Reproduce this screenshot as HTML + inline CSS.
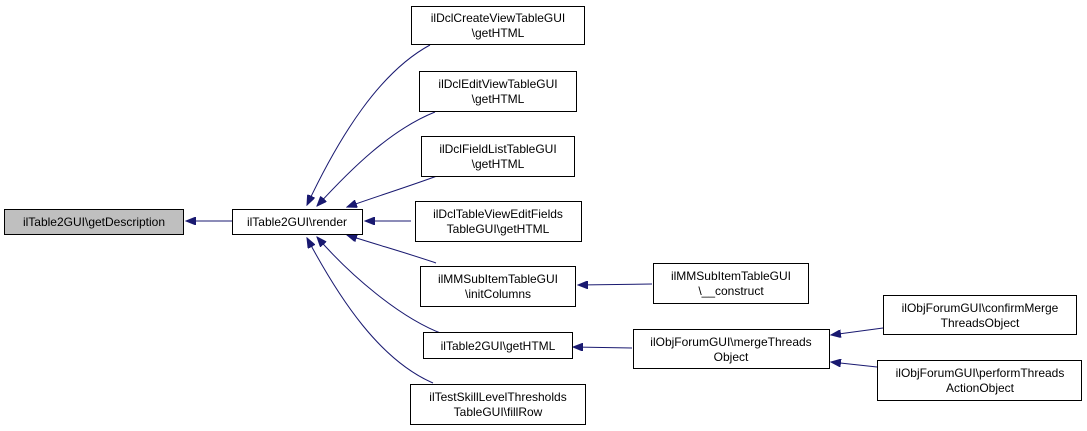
<!DOCTYPE html>
<html><head><meta charset="utf-8"><style>
html,body{margin:0;padding:0;background:#fff;}
svg{display:block;}
text{font-family:"Liberation Sans",Arial,sans-serif;font-size:12px;fill:#000;}
.n{fill:#fff;stroke:#000;stroke-width:1;}
.e{fill:none;stroke:#191970;stroke-width:1;}
</style></head><body>
<svg width="1087" height="431" viewBox="0 0 1087 431" xmlns="http://www.w3.org/2000/svg">
<defs>
<marker id="a" markerWidth="11" markerHeight="8" refX="10" refY="4" orient="auto" markerUnits="userSpaceOnUse">
<path d="M0,0 L10,4 L0,8 Z" fill="#191970" stroke="#191970"/>
</marker>
</defs>
<!-- edges -->
<path class="e" marker-end="url(#a)" d="M232,221 L186,221"/>
<path class="e" marker-end="url(#a)" d="M430,45 C380,72 340,135 307,205"/>
<path class="e" marker-end="url(#a)" d="M435,112 C390,130 350,170 317,206"/>
<path class="e" marker-end="url(#a)" d="M437,176 C410,186 378,196 347,207"/>
<path class="e" marker-end="url(#a)" d="M411,221 L365,221"/>
<path class="e" marker-end="url(#a)" d="M436,263 C410,254 378,245 347,235"/>
<path class="e" marker-end="url(#a)" d="M443,334 C400,318 350,275 317,237"/>
<path class="e" marker-end="url(#a)" d="M433,383 C380,360 340,300 307,238"/>
<path class="e" marker-end="url(#a)" d="M652,284 L578,285"/>
<path class="e" marker-end="url(#a)" d="M632,348 L573,347"/>
<path class="e" marker-end="url(#a)" d="M883,328 L831,335"/>
<path class="e" marker-end="url(#a)" d="M877,367 L831,362"/>
<!-- nodes -->
<rect x="4.5" y="209.5" width="179" height="25" style="fill:#bfbfbf;stroke:#000"/>
<text x="94" y="226" text-anchor="middle">ilTable2GUI\getDescription</text>
<rect class="n" x="232.5" y="209.5" width="130" height="25"/>
<text x="297" y="226" text-anchor="middle">ilTable2GUI\render</text>

<rect class="n" x="411.5" y="6.5" width="173" height="38"/>
<text x="498" y="22" text-anchor="middle">ilDclCreateViewTableGUI</text>
<text x="498" y="37" text-anchor="middle">\getHTML</text>

<rect class="n" x="419.5" y="71.5" width="157" height="40"/>
<text x="498" y="88" text-anchor="middle">ilDclEditViewTableGUI</text>
<text x="498" y="103" text-anchor="middle">\getHTML</text>

<rect class="n" x="421.5" y="136.5" width="153" height="40"/>
<text x="498" y="153" text-anchor="middle">ilDclFieldListTableGUI</text>
<text x="498" y="168" text-anchor="middle">\getHTML</text>

<rect class="n" x="415.5" y="201.5" width="166" height="40"/>
<text x="498" y="218" text-anchor="middle">ilDclTableViewEditFields</text>
<text x="498" y="233" text-anchor="middle">TableGUI\getHTML</text>

<rect class="n" x="420.5" y="266.5" width="155" height="40"/>
<text x="498" y="283" text-anchor="middle">ilMMSubItemTableGUI</text>
<text x="498" y="298" text-anchor="middle">\initColumns</text>

<rect class="n" x="423.5" y="332.5" width="149" height="26"/>
<text x="498" y="350" text-anchor="middle">ilTable2GUI\getHTML</text>

<rect class="n" x="410.5" y="384.5" width="175" height="40"/>
<text x="498" y="401" text-anchor="middle">ilTestSkillLevelThresholds</text>
<text x="498" y="416" text-anchor="middle">TableGUI\fillRow</text>

<rect class="n" x="653.5" y="263.5" width="155" height="40"/>
<text x="731" y="280" text-anchor="middle">ilMMSubItemTableGUI</text>
<text x="731" y="295" text-anchor="middle">\__construct</text>

<rect class="n" x="633.5" y="329.5" width="196" height="39"/>
<text x="731" y="346" text-anchor="middle">ilObjForumGUI\mergeThreads</text>
<text x="731" y="361" text-anchor="middle">Object</text>

<rect class="n" x="883.5" y="295.5" width="193" height="39"/>
<text x="980" y="312" text-anchor="middle">ilObjForumGUI\confirmMerge</text>
<text x="980" y="327" text-anchor="middle">ThreadsObject</text>

<rect class="n" x="877.5" y="360.5" width="204" height="40"/>
<text x="980" y="377" text-anchor="middle">ilObjForumGUI\performThreads</text>
<text x="980" y="392" text-anchor="middle">ActionObject</text>
</svg>
</body></html>
